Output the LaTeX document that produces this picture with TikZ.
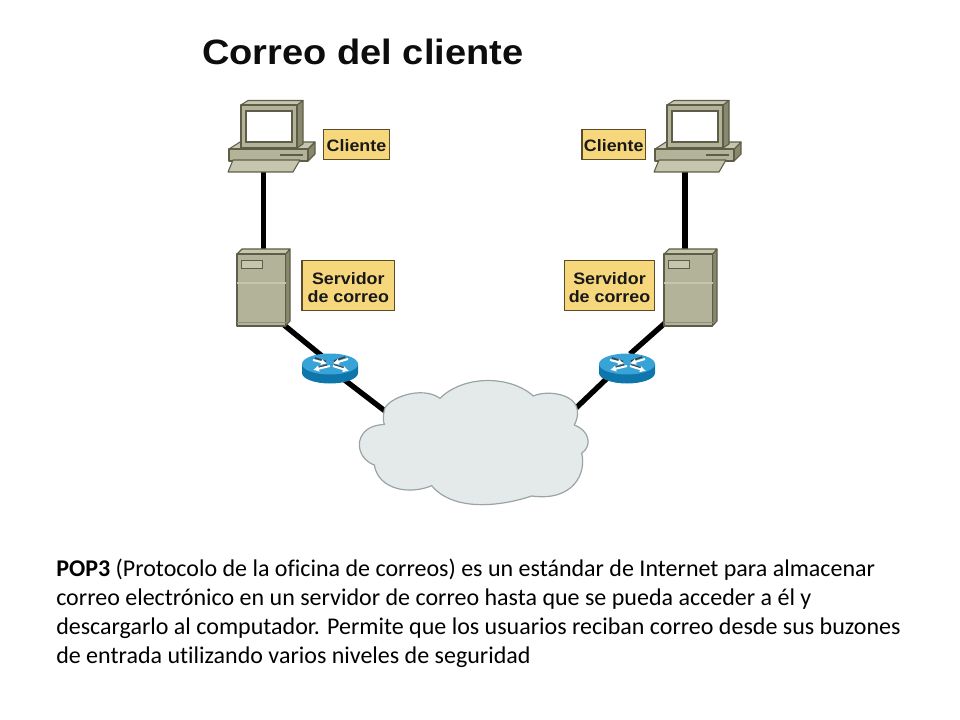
\documentclass[tikz,border=0pt]{standalone}
\usepackage{fontspec}
\setmainfont[RawFeature={-liga}]{Carlito}
\newfontfamily\arialish[FakeStretch=1.08]{Liberation Sans}
\usetikzlibrary{arrows.meta}
\definecolor{bodyc}{HTML}{B3B399}
\definecolor{lightc}{HTML}{C6C6AE}
\definecolor{darkc}{HTML}{88886E}
\definecolor{edgec}{HTML}{5E5E48}
\definecolor{labelc}{HTML}{F6D77C}
\definecolor{labeledge}{HTML}{5A4C28}
\definecolor{routertop}{HTML}{38A3D6}
\definecolor{routerside}{HTML}{0F76AC}
\definecolor{cloudc}{HTML}{E4EAEA}
\definecolor{cloudedge}{HTML}{9AA4A4}
\tikzset{
  x=0.75pt,y=-0.75pt,
  link/.style={line width=4pt,black},
  lbl/.style={draw=labeledge,line width=0.9pt,fill=labelc,inner sep=0pt,align=center,
    font=\arialish\bfseries\fontsize{12.4}{13.6}\selectfont,text=black!90},
  para/.style={anchor=base west,inner sep=0pt,font=\fontsize{18}{22}\selectfont,text=black},
  part/.style={draw=edgec,line width=0.8pt,line join=round},
  pics/computer/.style={code={
    % base
    \fill[part,fill=darkc] (67,44) -- (74,37) -- (74,49) -- (67,56) -- cycle;
    \fill[part,fill=lightc] (-12,44) -- (-1,37) -- (74,37) -- (67,44) -- cycle;
    \fill[part,fill=bodyc] (-12,44) rectangle (67,56);
    \draw[edgec,line width=1pt] (39,50) -- (62,50);
    % keyboard
    \fill[part,fill=lightc] (-13,67) -- (-8,55) -- (59,55) -- (52,67) -- cycle;
    % monitor
    \fill[part,fill=darkc] (56,0) -- (62,-4.5) -- (62,39) -- (56,43) -- cycle;
    \fill[part,fill=lightc] (0,0) -- (7,-4.5) -- (62,-4.5) -- (56,0) -- cycle;
    \fill[part,fill=bodyc] (0,0) rectangle (56,43);
    \fill[draw=edgec,line width=1pt,fill=white] (5,6) rectangle (51,37);
  }},
  pics/server/.style={code={
    \fill[part,fill=darkc] (48.5,0) -- (53,-5) -- (53,67) -- (48.5,72) -- cycle;
    \fill[part,fill=lightc] (0,0) -- (5,-5) -- (53,-5) -- (48.5,0) -- cycle;
    \fill[part,fill=bodyc] (0,0) rectangle (48.5,72);
    \draw[lightc,line width=0.8pt] (0,29) -- (48.5,29);
    \draw[edgec!70,line width=0.6pt] (0,68) -- (48.5,68);
    \fill[draw=edgec,line width=0.6pt,fill=lightc] (4,6) rectangle (25,14);
  }},
  pics/router/.style={code={
    \fill[routerside] (-28,0) -- (-28,9) arc[start angle=180,end angle=0,x radius=28,y radius=10.5]
       -- (28,0) -- cycle;
    \fill[routertop] (0,0) ellipse[x radius=28,y radius=10.5];
    \draw[black!75,line width=1.2pt] (-15,-6) -- (-4,-2.5) (15,-7) -- (4,-3) (-3,1) -- (-13,4) (4,1) -- (14,4);
    \begin{scope}[white,line width=1.5pt,-{Latex[length=4.5pt,width=5pt]}]
      \draw (-17,-4) -- (-3,-0.5);
      \draw (0,2) -- (-17,6);
      \draw (18,-5) -- (3,-0.5);
      \draw (3,2) -- (19,7);
    \end{scope}
  }}
}
\begin{document}
\begin{tikzpicture}
\useasboundingbox (0,0) rectangle (960,720);
% connector end points
\coordinate (pcLport) at (263.5,170);
\coordinate (srvLtop) at (263.5,250);
\coordinate (srvLport) at (284,325);
\coordinate (rtLa) at (322,356);
\coordinate (rtLb) at (335,372.6);
\coordinate (cloudL) at (385,411);
\coordinate (pcRport) at (685,170);
\coordinate (srvRtop) at (685,250);
\coordinate (srvRport) at (665,323);
\coordinate (rtRa) at (630,354);
\coordinate (rtRb) at (622,364);
\coordinate (cloudR) at (576,408);
\draw[link] (pcLport) -- (srvLtop);
\draw[link] (srvLport) -- (rtLa);
\draw[link] (rtLb) -- (cloudL);
\draw[link] (pcRport) -- (srvRtop);
\draw[link] (srvRport) -- (rtRa);
\draw[link] (rtRb) -- (cloudR);
% cloud
\begin{scope}[shift={(340,370)},x=0.25pt,y=-0.25pt]
\filldraw[fill=cloudc,draw=cloudedge,line width=0.9pt]
 (133,120) .. controls (140,85) and (245,45) .. (300,85)
 .. controls (370,15) and (510,15) .. (580,78)
 .. controls (620,60) and (705,70) .. (712,120)
 .. controls (714,140) and (710,150) .. (703,165)
 .. controls (745,180) and (760,225) .. (725,250)
 .. controls (740,310) and (700,395) .. (575,378)
 .. controls (480,410) and (340,425) .. (275,347)
 .. controls (210,375) and (115,360) .. (103,285)
 .. controls (60,270) and (45,220) .. (70,190)
 .. controls (85,170) and (110,165) .. (133,163)
 .. controls (128,150) and (130,135) .. (133,120) -- cycle;
\end{scope}
% devices
\pic (pcL) at (241,105) {computer};
\pic (pcR) at (667,105) {computer};
\pic (srvL) at (237,254) {server};
\pic (srvR) at (664,254) {server};
\pic (rtL) at (330,364) {router};
\pic (rtR) at (627,364) {router};
% labels
\node[lbl,minimum width=49.5pt,minimum height=23pt] (lblCL) at (356.5,144.5) {\rule{0pt}{11pt}Cliente};
\node[lbl,minimum width=47.5pt,minimum height=23pt] (lblCR) at (613.7,144.5) {\rule{0pt}{11pt}Cliente};
\node[lbl,minimum width=69.5pt,minimum height=38pt] (lblSL) at (348.3,285.5) {\rule{0pt}{12pt}Servidor\\de correo};
\node[lbl,minimum width=68pt,minimum height=38pt] (lblSR) at (609.5,285.5) {\rule{0pt}{12pt}Servidor\\de correo};
% title
\node[anchor=base west,inner sep=0pt,font=\arialish\bfseries\fontsize{26.4}{32}\selectfont,text=black!95] (title) at (202,65) {Correo del cliente};
% paragraph
\node[para] (l1) at (56,576) {\textbf{POP3} (Protocolo de la oficina de correos) es un estándar de Internet para almacenar};
\node[para] (l2) at (56,605) {correo electrónico en un servidor de correo hasta que se pueda acceder a él y};
\node[para] (l3) at (56,634) {descargarlo al computador. Permite que los usuarios reciban correo desde sus buzones};
\node[para] (l4) at (56,663) {de entrada utilizando varios niveles de seguridad};
\end{tikzpicture}
\end{document}
